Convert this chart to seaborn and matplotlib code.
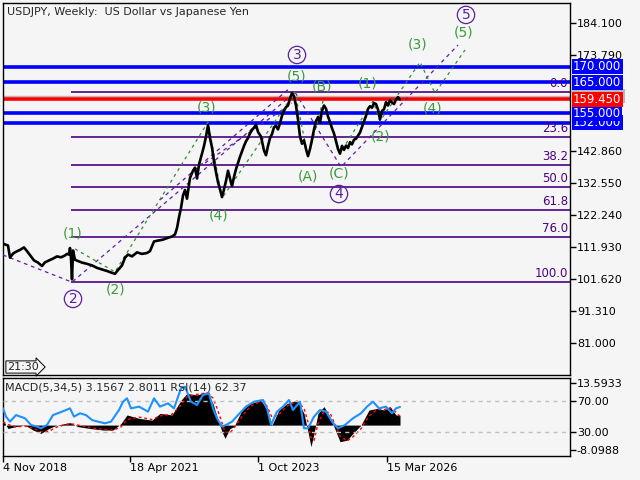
import numpy as np
import pandas as pd
import matplotlib.pyplot as plt
import matplotlib.transforms as mtransforms
from matplotlib.patches import Rectangle
import seaborn as sns

# -----------------------------
# DATA (weekly bars)
# -----------------------------

bars = [0, 5, 7, 10, 13, 17, 21, 24, 27, 31, 35, 39, 42, 46, 50, 54, 58, 62,
        64, 66, 67, 68, 69, 70, 72, 75, 79, 84, 89, 94, 99, 104, 109, 112,
        115, 119, 122, 125, 129, 134, 139, 144, 147, 151, 155, 160, 165, 169,
        172, 174, 176, 178, 180, 182, 184, 187, 190, 192, 194, 196, 199, 201,
        203, 205, 207, 209, 211, 213, 215, 217, 219, 221, 223, 225, 227, 229,
        231, 233, 235, 237, 239, 241, 243, 245, 247, 249, 251, 253, 255, 258,
        261, 263, 265, 267, 269, 271, 273, 275, 277, 279, 281, 283, 285, 287,
        289, 291, 293, 295, 297, 299, 301, 303, 305, 307, 309, 311, 313, 315,
        317, 319, 321, 323, 325, 327, 329, 331, 333, 335, 337, 339, 341, 343,
        345, 347, 349, 351, 353, 355, 357, 359, 361, 363, 365, 367, 369, 371,
        373, 375, 377, 379, 381, 383, 385, 387, 389, 391, 393, 395, 397]
close = [113.0, 112.4, 108.5, 109.8, 110.4, 111.0, 111.8, 110.6, 109.3, 107.6,
         106.9, 105.8, 107.0, 107.6, 108.2, 108.9, 108.6, 109.2,
         109.7, 109.5, 111.6, 108.3, 101.5, 110.8, 107.8, 107.4, 106.9, 106.5,
         106.0, 105.2, 104.7, 104.2, 103.6, 103.3,
         104.5, 106.0, 108.5, 109.5, 108.9, 110.2, 109.7, 110.0, 110.6, 113.7,
         114.0, 114.3, 114.9, 115.3,
         116.0, 118.0, 121.5, 124.5, 128.5, 130.3, 127.5, 134.2, 136.5, 137.5,
         134.0, 138.5, 142.0, 144.5,
         147.5, 151.2, 147.0, 144.0, 139.5, 136.0, 132.8, 130.5, 128.0, 130.5,
         133.2, 136.5, 134.0, 131.5,
         134.5, 137.0, 139.0, 141.0, 142.8, 144.5, 146.0, 147.0, 148.5, 149.6,
         150.4, 151.3, 149.0, 147.5,
         143.0, 141.5, 144.5, 147.0, 148.3, 150.5, 151.0, 149.8, 151.8, 154.2,
         155.8, 157.0, 157.5, 159.8,
         161.5, 160.5, 157.5, 153.0, 147.5, 145.2, 146.3, 143.5, 141.2, 143.5,
         146.5, 149.8, 152.5, 153.8,
         152.0, 155.8, 157.5, 156.5, 154.0, 152.2, 150.2, 148.5, 146.0, 143.5,
         142.0, 144.5, 143.2, 144.6,
         143.8, 145.7, 145.0, 146.5, 146.8, 147.8, 148.8, 150.6, 152.5, 154.2,
         156.4, 157.3, 156.8, 158.3,
         158.0, 156.2, 153.0, 155.8, 156.3, 158.6, 157.5, 159.2, 158.5, 158.0,
         159.4, 160.2, 159.45]

# horizontal levels
blue_levels = [170.0, 165.0, 155.0, 152.0]
bid_price = 159.45
ask_price = 160.68

# fibonacci grid
fib_high = 161.8
fib_low = 100.55
fib_levels = [0.0, 23.6, 38.2, 50.0, 61.8, 76.0, 100.0]
fib_start = 68

# wave pivots
purple_wave_bar = [0, 69, 292, 338, 455]
purple_wave_price = [109.35, 100.6, 161.8, 137.7, 177.0]
green_wave_bar = [72, 112, 205, 219, 292, 305, 320, 337, 370, 377, 417, 432, 462]
green_wave_price = [111.3, 103.9, 152.2, 127.7, 161.8, 140.9, 159.0, 142.2,
                    158.9, 152.5, 171.5, 161.5, 175.4]

# channel lines (start bar, start price, end bar, end price)
chan_bar0 = [157, 202]
chan_p0 = [127.1, 139.0]
chan_bar1 = [287, 289]
chan_p1 = [163.2, 158.3]

# wave labels
green_labels = ['(1)', '(2)', '(3)', '(4)', '(5)', '(A)', '(B)', '(C)',
                '(1)', '(2)', '(3)', '(4)', '(5)']
green_label_bar = [70, 113, 204, 216, 294, 305, 319, 336, 365, 378, 415, 430, 461]
green_label_price = [116.4, 98.1, 157.0, 122.2, 166.7, 134.5, 163.5, 135.45,
                     164.45, 147.4, 177.3, 156.7, 180.9]
circle_labels = ['2', '3', '4', '5']
circle_label_bar = [70, 294, 336, 463]
circle_label_price = [95.2, 173.8, 129.0, 186.7]

price_ticks = [184.10, 173.79, 142.86, 132.55, 122.24, 111.93, 101.62, 91.31, 81.00]

date_ticks = [0, 127, 255, 384]
date_labels = ['4 Nov 2018', '18 Apr 2021', '1 Oct 2023', '15 Mar 2026']

# MACD(5,34,5) histogram and signal
macd_bar = [0, 5, 13, 22, 30, 38, 46, 54, 67, 75, 87, 100, 110, 118, 124, 136,
            149, 157, 169, 178, 184, 194, 204, 210, 214, 219, 222, 227, 231,
            239, 247, 258, 264, 269, 276, 284, 294, 301, 305, 308, 311, 315,
            321, 327, 331, 337, 344, 350, 358, 366, 374, 381, 387, 393, 397]
macd_hist = [1.6, -1.1, -0.5, 0.0, -1.6, -2.7, -1.1, 0.0, 0.8, -0.5, -1.1, -1.6,
             -1.6, 0.5, 3.3, 2.2, 1.6, 3.8, 3.3, 8.1, 10.3, 9.8, 10.8, 7.0, 2.7,
             -2.2, -4.3, -1.1, -0.5, 4.9, 7.0, 8.1, 4.9, 0.0, 4.9, 7.0, 8.1, 3.8,
             -2.2, -7.0, -2.7, 3.8, 6.0, 2.7, -0.5, -5.4, -4.9, -2.7, 0.0, 4.9,
             5.4, 4.9, 6.0, 3.3, 3.16]
macd_signal = [1.0, 0.2, -0.6, -0.3, -1.0, -2.2, -2.0, -0.6, 0.5, 0.0, -0.8,
               -1.4, -1.7, -0.6, 1.8, 2.6, 1.8, 3.0, 3.5, 6.5, 9.2, 10.0, 10.5,
               8.8, 5.5, 0.8, -2.2, -2.5, -1.0, 2.8, 6.0, 7.8, 6.2, 2.5, 3.5,
               6.2, 7.8, 5.5, 1.0, -4.0, -5.0, 0.5, 4.5, 4.0, 1.0, -3.5, -5.2,
               -3.8, -1.2, 3.0, 5.0, 5.0, 5.6, 4.2, 2.80]

# RSI(14)
rsi_bar = [0, 3, 7, 13, 22, 28, 34, 38, 44, 50, 59, 67, 71, 77, 83, 89, 95,
           102, 108, 116, 120, 124, 128, 136, 145, 151, 157, 165, 171, 178,
           182, 188, 194, 200, 206, 210, 214, 219, 223, 229, 235, 243, 251,
           260, 264, 268, 274, 280, 286, 290, 297, 301, 305, 311, 317, 323,
           329, 335, 342, 350, 358, 364, 370, 376, 383, 389, 393, 397]
rsi = [60.6, 50.0, 43.6, 52.0, 47.9, 39.4, 37.2, 35.1, 39.4, 52.0, 56.4, 60.6,
       50.0, 54.3, 52.0, 45.7, 43.6, 41.5, 43.6, 58.5, 69.1, 73.4, 60.6, 62.8,
       56.4, 73.4, 62.8, 67.0, 60.6, 86.2, 88.3, 69.1, 64.9, 77.7, 79.8, 60.6,
       47.9, 37.2, 39.4, 43.6, 52.0, 62.8, 69.1, 71.3, 60.6, 39.4, 56.4, 62.8,
       71.3, 58.5, 69.1, 35.1, 35.1, 50.0, 58.5, 56.4, 43.6, 35.1, 39.4, 47.9,
       54.3, 62.8, 69.1, 60.6, 62.8, 54.3, 60.6, 62.37]

# -----------------------------
# STYLE
# -----------------------------

sns.set_style('ticks')
plt.rcParams['font.family'] = ['DejaVu Sans']

bg = '#f5f5f5'
purple = '#4b0082'
green = '#3a9a3a'
blue = '#0000ff'

fig = plt.figure(figsize=(6.4, 4.8), dpi=100, facecolor=bg)

# -----------------------------
# MAIN PRICE PANEL
# -----------------------------

ax = fig.add_axes([3 / 640, 105 / 480, 567 / 640, 372 / 480])
ax.set_facecolor(bg)
ax.set_xlim(0, 567)
ax.set_ylim(70.69, 190.54)

# fibonacci lines
fib_prices = [fib_high - lv / 100 * (fib_high - fib_low) for lv in fib_levels]
ax.hlines(fib_prices, fib_start, 567, color=purple, lw=1.2, zorder=2)
for lv, fp in zip(fib_levels, fib_prices):
    ax.text(565, fp + 0.6, f'{lv:.1f}', color=purple, fontsize=8.5,
            ha='right', va='bottom', zorder=3)

# horizontal price levels
ax.axhline(ask_price, color='#b8b8b8', lw=1, zorder=2)
for lvl in blue_levels:
    ax.axhline(lvl, color=blue, lw=2.6, zorder=2)
ax.axhline(bid_price, color='#ff0000', lw=2.6, zorder=2)

# wave and channel lines
ax.plot(purple_wave_bar, purple_wave_price, color='#5b1fa0', lw=0.9,
        ls=(0, (3, 3)), zorder=4)
for b0, p0, b1, p1 in zip(chan_bar0, chan_p0, chan_bar1, chan_p1):
    ax.plot([b0, b1], [p0, p1], color='#5b1fa0', lw=0.9, ls=(0, (3, 3)), zorder=4)
ax.plot(green_wave_bar, green_wave_price, color='#2f8f2f', lw=0.9,
        ls=(0, (2.5, 3)), zorder=4)

# price line
sns.lineplot(x=bars, y=close, ax=ax, color='black', lw=1.9, zorder=5)

# wave labels
for txt, b, p in zip(green_labels, green_label_bar, green_label_price):
    ax.text(b, p, txt, color=green, fontsize=10, ha='center', va='center', zorder=6)
for txt, b, p in zip(circle_labels, circle_label_bar, circle_label_price):
    ax.text(b, p, txt, color='#5b1fa0', fontsize=10, ha='center', va='center',
            zorder=6,
            bbox=dict(boxstyle='circle,pad=0.12', fc='none', ec='#5b1fa0', lw=0.9))

ax.set_xticks([])
ax.yaxis.tick_right()
ax.set_yticks(price_ticks)
ax.set_yticklabels([f'{t:.3f}' for t in price_ticks])
ax.tick_params(axis='y', length=4, width=1, pad=1, labelsize=8, colors='black')
ax.set_xlabel('')
ax.set_ylabel('')
for s in ax.spines.values():
    s.set_color('black')
    s.set_linewidth(1)

# price label boxes on the right axis
tr = mtransforms.blended_transform_factory(ax.transAxes, ax.transData)
# ask box sits behind the bid box, only its edges show
ax.add_patch(Rectangle((1.0035, ask_price - 2.2), 0.094, 4.4, transform=tr,
                       fc='#b8b8b8', ec='none', clip_on=False, zorder=9))
box_prices = [152.0, 155.0, 165.0, 170.0, bid_price]
box_colors = [blue, blue, blue, blue, '#ff0000']
for bp, bc in zip(box_prices, box_colors):
    ax.text(1.0055, bp, f'{bp:.3f}', transform=tr, color='white', fontsize=8.5,
            ha='left', va='center', clip_on=False, zorder=10,
            bbox=dict(boxstyle='square,pad=0.1', fc=bc, ec='none'))

fig.text(7 / 640, 1 - 12 / 480, 'USDJPY, Weekly:  US Dollar vs Japanese Yen',
         fontsize=8, va='center', ha='left')
fig.text(7 / 640, 1 - 367 / 480, '21:30', fontsize=8, va='center', ha='left',
         bbox=dict(boxstyle='rarrow,pad=0.1', fc=bg, ec='black', lw=0.7))

# -----------------------------
# MACD / RSI PANEL
# -----------------------------

ax2 = fig.add_axes([3 / 640, 24 / 480, 567 / 640, 78 / 480])
ax2.set_facecolor(bg)
ax2.set_xlim(0, 567)
ax2.set_ylim(-10.05, 15.32)
ax2.fill_between(macd_bar, macd_hist, 0, color='black', lw=0, zorder=2)
sns.lineplot(x=macd_bar, y=macd_signal, ax=ax2, color='#ff0000', lw=1,
             ls=(0, (2, 2)), zorder=3)

ax3 = ax2.twinx()
ax3.set_ylim(-0.3, 99.4)
ax3.axhline(70, color='#c0c0c0', lw=1, ls=(0, (3, 3)), zorder=1)
ax3.axhline(30, color='#c0c0c0', lw=1, ls=(0, (3, 3)), zorder=1)
sns.lineplot(x=rsi_bar, y=rsi, ax=ax3, color='#1e90ff', lw=1.5, zorder=4)
ax3.set_yticks([70, 30])
ax3.set_yticklabels(['70.00', '30.00'])
ax3.tick_params(axis='y', length=4, width=1, pad=1, labelsize=8, colors='black')
ax3.set_ylabel('')
for s in ax3.spines.values():
    s.set_visible(False)

# twinx moves the MACD ticks to the left, put them back on the right
ax2.yaxis.tick_right()
ax2.yaxis.set_label_position('right')
ax2.set_yticks([13.5933, -8.0988])
ax2.set_yticklabels(['13.5933', '-8.0988'])
ax2.set_xticks(date_ticks)
ax2.set_xticklabels(date_labels, ha='left')
ax2.tick_params(axis='both', length=4, width=1, pad=1, labelsize=8, colors='black')
ax2.set_xlabel('')
ax2.set_ylabel('')
for s in ax2.spines.values():
    s.set_color('black')
    s.set_linewidth(1)

fig.text(5 / 640, 1 - 388 / 480, 'MACD(5,34,5) 3.1567 2.8011 RSI(14) 62.37',
         fontsize=8, va='center', ha='left')

fig.savefig('out.png', dpi=100, facecolor=bg)
